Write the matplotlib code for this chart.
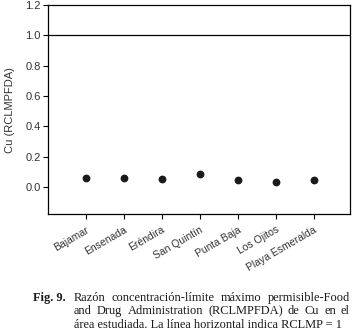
#!/usr/bin/env python3

# Ratio plot of Cu (RCLMPFDA) per site, with caption below.
import matplotlib
matplotlib.use('Agg')
import matplotlib.pyplot as plt

# Data.
sites = ['Bajamar', 'Ensenada', 'Eréndira', 'San Quintín', 'Punta Baja', 'Los Ojitos', 'Playa Esmeralda']
cu_ratio = [0.057, 0.059, 0.053, 0.085, 0.048, 0.033, 0.048]
y_ticks = [0.0, 0.2, 0.4, 0.6, 0.8, 1.0, 1.2]
limit = 1.0

caption_lines = [
    'Razón concentración-límite máximo permisible-Food',
    'and Drug Administration (RCLMPFDA) de Cu en el',
    'área estudiada. La línea horizontal indica RCLMP = 1',
]

W, H = 356, 335
fig = plt.figure(figsize=(W / 100, H / 100), dpi=100)
ax = fig.add_axes([48.3 / W, 1 - 214.3 / H, (350 - 48.3) / W, (214.3 - 5) / H])

ax.plot(range(len(sites)), cu_ratio, 'o', color='#1a1a1a', markersize=4.6)
ax.axhline(limit, color='black', linewidth=0.9)

ax.set_xlim(-0.98, 6.96)
ax.set_ylim(-0.18, 1.2)
ax.set_yticks(y_ticks)
ax.set_yticklabels([f'{v:.1f}' for v in y_ticks])
ax.set_xticks(range(len(sites)))
ax.set_xticklabels(sites, rotation=30, ha='right', rotation_mode='anchor')

for lab in ax.get_yticklabels():
    lab.set_fontfamily('Liberation Sans')
    lab.set_fontsize(8)
    lab.set_color('#333333')
for lab in ax.get_xticklabels():
    lab.set_fontfamily('Liberation Sans')
    lab.set_fontsize(7.5)
    lab.set_color('#333333')
ax.tick_params(length=3.5, width=0.8, color='black', pad=2)
ax.tick_params(axis='x', pad=4)
for s in ax.spines.values():
    s.set_linewidth(0.9)

ax.set_ylabel('Cu (RCLMPFDA)', fontfamily='Liberation Sans', fontsize=8, color='#333333', labelpad=7)

# Caption with justified lines.
renderer = fig.canvas.get_renderer()
cap_font = dict(family='Liberation Serif', size=8.9, color='#1a1a1a', va='baseline')
fig.text(33 / W, 1 - 301 / H, 'Fig. 9.', fontweight='bold', **cap_font)

x0, x1 = 74, 350
baselines = [301, 314, 328]
for i, line in enumerate(caption_lines):
    y = 1 - baselines[i] / H
    words = line.split(' ')
    if i == len(caption_lines) - 1:
        fig.text(x0 / W, y, line, **cap_font)
        continue
    texts = [fig.text(0, y, w, **cap_font) for w in words]
    widths = [t.get_window_extent(renderer).width for t in texts]
    gap = (x1 - x0 - sum(widths)) / (len(words) - 1)
    x = x0
    for t, w in zip(texts, widths):
        t.set_x(x / W)
        x += w + gap

fig.savefig('out.png', dpi=100)
plt.close(fig)
